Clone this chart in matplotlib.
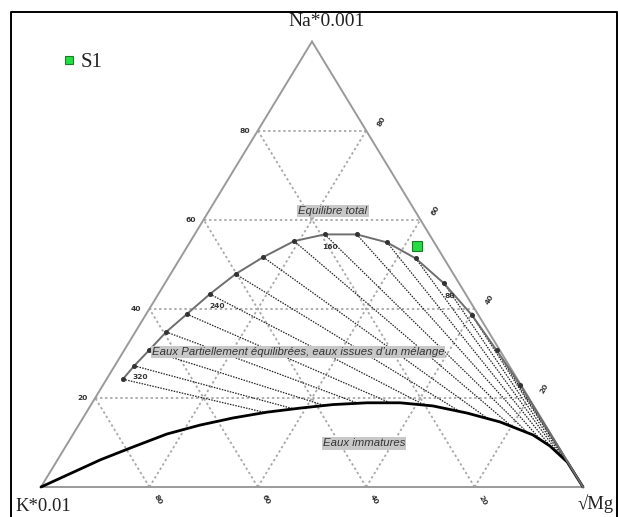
import matplotlib
matplotlib.use("Agg")
import matplotlib.pyplot as plt
import numpy as np

# ---------------- data (ternary percentages) ----------------
# Full-equilibrium curve nodes: Na*0.001 %, sqrt(Mg) %  (K*0.01 % = 100 - Na - Mg)
eq_na = [24.2, 27.2, 30.7, 34.8, 38.8, 43.3, 47.8, 51.6, 55.2, 56.7, 56.7, 54.9, 51.3, 45.7, 38.6, 30.7, 22.9, 0.0]
eq_mg = [3.0, 3.6, 4.6, 5.7, 7.5, 9.5, 12.0, 15.2, 19.1, 24.0, 29.9, 36.4, 43.5, 51.5, 60.2, 68.7, 77.0, 100.0]

# Immature-waters curve
im_na = [0.0, 6.1, 9.0, 11.9, 13.9, 15.5, 16.8, 17.7, 18.5, 18.9, 18.9, 18.2, 16.6, 14.6, 11.7, 9.2, 5.6, 0.0]
im_mg = [0.0, 7.9, 12.5, 17.3, 22.4, 27.7, 33.3, 38.9, 44.6, 50.7, 56.8, 63.2, 70.3, 77.4, 84.9, 89.3, 94.3, 100.0]

# Temperature labels on the equilibrium curve (index of node)
temp_labels = ["320", "240", "160", "80"]
temp_nodes = [0, 5, 9, 13]

# Sample
sample_name = "S1"
s1_na, s1_mg = 54.1, 42.4

grid_vals = [20, 40, 60, 80]
left_tick_labels = ["20", "40", "60", "80"]
right_tick_labels = ["80", "60", "40", "20"]
bottom_tick_labels = ["80", "60", "40", "20"]

# ---------------- geometry ----------------
K_XY = (41.0, 487.0)
MG_XY = (583.0, 487.0)
NA_XY = (312.0, 41.5)


def tern(na, mg):
    na = np.asarray(na, dtype=float) / 100.0
    mg = np.asarray(mg, dtype=float) / 100.0
    x = K_XY[0] + (MG_XY[0] - K_XY[0]) * mg + (NA_XY[0] - K_XY[0]) * na
    y = K_XY[1] + (NA_XY[1] - K_XY[1]) * na
    return x, y


fig = plt.figure(figsize=(6.18, 5.17), dpi=100)
ax = fig.add_axes([0, 0, 1, 1])
ax.set_xlim(0, 618)
ax.set_ylim(517, 0)
ax.axis("off")

# frame
ax.plot([10.6, 10.6, 617, 617], [530, 12, 12, 530], color="black", lw=1.4, zorder=1)

GRID_C = "#a8a8a8"
gstyle = dict(color=GRID_C, lw=1.3, ls=(0, (1.3, 1.5)), zorder=2)
for v in grid_vals:
    # Na constant
    x, y = tern([v, v], [0, 100 - v])
    ax.plot(x, y, **gstyle)
    # Mg constant
    x, y = tern([0, 100 - v], [v, v])
    ax.plot(x, y, **gstyle)
    # K constant
    x, y = tern([0, 100 - v], [100 - v, 0])
    ax.plot(x, y, **gstyle)

# triangle edges
x, y = tern([0, 0, 100, 0], [0, 100, 0, 0])
ax.plot(x, y, color="#9a9a9a", lw=1.4, zorder=3, solid_joinstyle="miter")

# tick labels
tick_font = dict(fontsize=5.4, fontweight="bold", color="#333333", family="DejaVu Sans")
for v, lab in zip(grid_vals, left_tick_labels):
    x, y = tern(v, 0)
    ax.text(x - 13, y, lab, ha="center", va="center", **tick_font)
for v, lab in zip(grid_vals, right_tick_labels):
    x, y = tern(100 - v, v)
    ax.text(x + 15, y - 9, lab, ha="center", va="center", rotation=60, **tick_font)
for v, lab in zip(grid_vals, bottom_tick_labels):
    x, y = tern(0, v)
    ax.text(x + 8, y + 13, lab, ha="center", va="center", rotation=-60, **tick_font)

# immature curve
ix, iy = tern(im_na, im_mg)
ax.plot(ix, iy, color="black", lw=2.0, zorder=6, solid_capstyle="round", solid_joinstyle="round")

# tie lines: from each equilibrium node toward the sqrt(Mg) apex, stopping on the immature curve
ex, ey = tern(eq_na, eq_mg)


def hit_immature(px, py):
    mx, my = MG_XY
    best = 1.0
    for i in range(len(ix) - 1):
        ax0, ay0, ax1, ay1 = ix[i], iy[i], ix[i + 1], iy[i + 1]
        d1 = np.array([mx - px, my - py])
        d2 = np.array([ax1 - ax0, ay1 - ay0])
        den = d1[0] * (-d2[1]) - d1[1] * (-d2[0])
        if abs(den) < 1e-9:
            continue
        rx, ry = ax0 - px, ay0 - py
        t = (rx * (-d2[1]) - ry * (-d2[0])) / den
        s = (d1[0] * ry - d1[1] * rx) / den
        if 1e-6 < t < best and -1e-9 <= s <= 1 + 1e-9:
            best = t
    return px + best * (mx - px), py + best * (my - py)


for px, py in zip(ex[:-1], ey[:-1]):
    qx, qy = hit_immature(px, py)
    ax.plot([px, qx], [py, qy], color="#222222", lw=0.9, ls=(0, (1.2, 1.0)), zorder=5)

# full equilibrium curve
ax.plot(ex, ey, color="#6e6e6e", lw=1.4, zorder=7, solid_joinstyle="round")
ax.plot(ex[:-1], ey[:-1], ls="none", marker="o", ms=2.6, color="#333333", zorder=8)

# temperature labels
temp_off = [(17, -2), (7, 12), (5, 13), (6, 13)]
for lab, n, (dx, dy) in zip(temp_labels, temp_nodes, temp_off):
    ax.text(ex[n] + dx, ey[n] + dy, lab, ha="center", va="center", **tick_font, zorder=9)

# region labels
box = dict(facecolor="#c8c8c8", edgecolor="none", pad=0.8)
lab_font = dict(fontsize=8.2, style="italic", color="#333333", family="Liberation Sans",
                ha="center", va="center", zorder=10)
ax.text(333, 211, "Equilibre total", bbox=box, **lab_font)
ax.text(298, 352, "Eaux Partiellement équilibrées, eaux issues d’un mélange", bbox=box, **lab_font)
ax.text(364, 443.5, "Eaux immatures", bbox=box, **lab_font)

# apex labels
serif = dict(family="Liberation Serif", color="#222222", zorder=10)
ax.text(327, 26, "Na*0.001", ha="center", va="baseline", fontsize=14, **serif)
ax.text(43, 511, "K*0.01", ha="center", va="baseline", fontsize=13.5, **serif)
ax.text(596, 509, "√Mg", ha="center", va="baseline", fontsize=13.5, **serif)

# sample point
sx, sy = tern(s1_na, s1_mg)
ax.plot([sx], [sy], ls="none", marker="s", ms=6.5, mfc="#22dd44", mec="#1a7a2a", mew=0.8, zorder=11)

# legend
ax.plot([69], [60], ls="none", marker="s", ms=5.5, mfc="#22dd44", mec="#1a7a2a", mew=0.8, zorder=11)
ax.text(81, 67, sample_name, ha="left", va="baseline", fontsize=15, **serif)

fig.savefig("out.png", dpi=100)
